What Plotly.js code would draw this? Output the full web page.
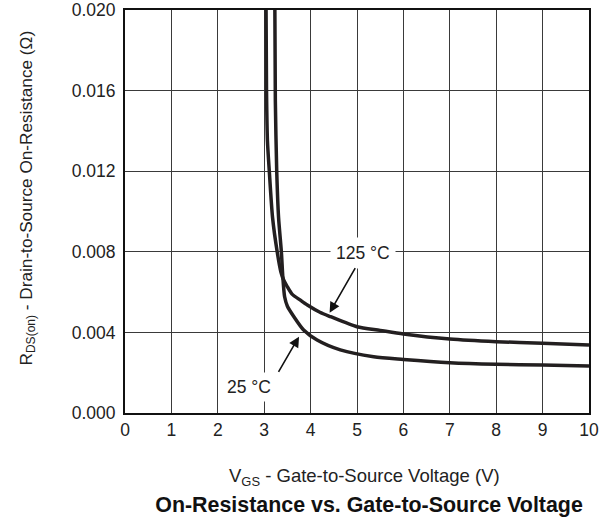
<!DOCTYPE html>
<html>
<head>
<meta charset="utf-8">
<script src="https://cdn.plot.ly/plotly-3.0.1.min.js"></script>
<style>html,body{margin:0;padding:0;background:#fff;}#chart{width:608px;height:521px;}</style>
</head>
<body>
<div id="chart"></div>
<script>
// Gate-to-source voltage (V) and on-resistance (ohm)
const vgs125 = [3.04, 3.05, 3.07, 3.11, 3.18, 3.28, 3.36, 3.42, 3.49, 3.60, 3.78, 3.93, 4.20, 4.43, 5.00, 5.50, 6.00, 7.00, 8.00, 9.00, 10.00];
const rds125 = [0.0200, 0.0160, 0.0135, 0.0120, 0.0097, 0.0080, 0.0070, 0.0066, 0.0063, 0.0059, 0.0056, 0.00536, 0.0050, 0.00478, 0.00428, 0.00410, 0.00392, 0.00367, 0.00354, 0.00346, 0.00337];

const vgs25 = [3.23, 3.24, 3.27, 3.31, 3.37, 3.40, 3.44, 3.50, 3.64, 3.85, 4.14, 4.64, 5.36, 6.00, 7.00, 8.00, 9.00, 10.00];
const rds25 = [0.0200, 0.0155, 0.0120, 0.0097, 0.0080, 0.0068, 0.00577, 0.0053, 0.00478, 0.00412, 0.00362, 0.00313, 0.00279, 0.00266, 0.00250, 0.00242, 0.00238, 0.00233];

const xTicks = [0, 1, 2, 3, 4, 5, 6, 7, 8, 9, 10];
const yTicks = [0.000, 0.004, 0.008, 0.012, 0.016, 0.020];
const yTickText = ['0.000', '0.004', '0.008', '0.012', '0.016', '0.020'];

const seriesNames = ['125 °C', '25 °C'];

const font = 'Liberation Sans, Arial, Helvetica, sans-serif';
const curveColor = '#231f20';

const traces = [
  {x: vgs125, y: rds125, name: seriesNames[0], mode: 'lines', line: {color: curveColor, width: 3.5, shape: 'spline', smoothing: 0.7}, showlegend: false, hoverinfo: 'skip'},
  {x: vgs25, y: rds25, name: seriesNames[1], mode: 'lines', line: {color: curveColor, width: 3.5, shape: 'spline', smoothing: 0.7}, showlegend: false, hoverinfo: 'skip'}
];

const layout = {
  width: 608, height: 521,
  margin: {l: 124.5, r: 19, t: 10, b: 108},
  paper_bgcolor: '#fff', plot_bgcolor: '#fff',
  font: {family: font, size: 17.5, color: '#222'},
  title: {
    text: '<b>On-Resistance vs. Gate-to-Source Voltage</b>',
    font: {family: font, size: 21.4, color: '#111'},
    x: 0.526, xanchor: 'center', xref: 'paper',
    y: 0.031, yanchor: 'middle', yref: 'container'
  },
  xaxis: {
    range: [0, 10], tickvals: xTicks, ticktext: xTicks.map(String),
    showgrid: true, gridcolor: '#3a3a3a', gridwidth: 1,
    showline: true, linecolor: '#111', linewidth: 2, mirror: true,
    ticks: '', zeroline: false, fixedrange: true,
    tickfont: {size: 17.5, color: '#222'}
  },
  yaxis: {
    range: [0, 0.020], tickvals: yTicks, ticktext: yTickText,
    showgrid: true, gridcolor: '#3a3a3a', gridwidth: 1,
    showline: true, linecolor: '#111', linewidth: 2, mirror: true,
    ticks: '', zeroline: false, fixedrange: true,
    tickfont: {size: 17.5, color: '#222'}, ticklabelstandoff: 4
  },
  annotations: [
    {x: 0.516, y: -0.158, xref: 'paper', yref: 'paper',
     text: 'V<sub>GS</sub> - Gate-to-Source Voltage (V)', showarrow: false,
     font: {size: 18.5, color: '#222'}, xanchor: 'center', yanchor: 'middle'},
    {x: 0, y: 0.5335, xref: 'paper', yref: 'paper', xshift: -97.5, textangle: -90,
     text: 'R<sub>DS(on)</sub> - Drain-to-Source On-Resistance (Ω)', showarrow: false,
     font: {size: 17.2, color: '#222'}, xanchor: 'center', yanchor: 'middle'},
    {x: 5.12, y: 0.00794, xref: 'x', yref: 'y', text: seriesNames[0], showarrow: false,
     bgcolor: '#fff', borderpad: 5, font: {size: 17.5, color: '#222'}, xanchor: 'center', yanchor: 'middle'},
    {x: 4.41, y: 0.00498, ax: 4.98, ay: 0.00726, xref: 'x', yref: 'y', axref: 'x', ayref: 'y',
     text: '', showarrow: true, arrowhead: 2, arrowsize: 1.3, arrowwidth: 1.6, arrowcolor: '#111'},
    {x: 2.68, y: 0.0013, xref: 'x', yref: 'y', text: seriesNames[1], showarrow: false,
     bgcolor: '#fff', borderpad: 4, font: {size: 17.5, color: '#222'}, xanchor: 'center', yanchor: 'middle'},
    {x: 3.75, y: 0.00379, ax: 3.29, ay: 0.00197, xref: 'x', yref: 'y', axref: 'x', ayref: 'y',
     text: '', showarrow: true, arrowhead: 2, arrowsize: 1.3, arrowwidth: 1.6, arrowcolor: '#111'}
  ]
};

Plotly.newPlot('chart', traces, layout, {staticPlot: true, displayModeBar: false});
</script>
</body>
</html>
